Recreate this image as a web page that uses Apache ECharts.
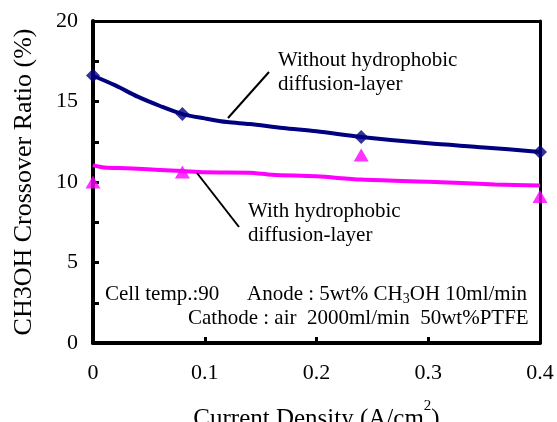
<!DOCTYPE html>
<html>
<head>
<meta charset="utf-8">
<script src="https://cdn.jsdelivr.net/npm/echarts@6/dist/echarts.min.js"></script>
<style>
html,body{margin:0;padding:0;background:#fff;}
#c{width:557px;height:422px;}
</style>
</head>
<body>
<div id="c"></div>
<script>
// Smooth curve (without hydrophobic diffusion-layer)
var curveWithoutX = [0, 0.02, 0.04, 0.06, 0.08, 0.10, 0.12, 0.14, 0.17, 0.20, 0.24, 0.30, 0.35, 0.40];
var curveWithoutY = [16.6, 16.0, 15.3, 14.72, 14.22, 13.95, 13.72, 13.6, 13.35, 13.15, 12.8, 12.4, 12.15, 11.86];
// Smooth curve (with hydrophobic diffusion-layer)
var curveWithX = [0, 0.01, 0.03, 0.06, 0.08, 0.10, 0.14, 0.16, 0.20, 0.24, 0.30, 0.36, 0.40];
var curveWithY = [11.05, 10.9, 10.85, 10.75, 10.68, 10.6, 10.58, 10.45, 10.35, 10.15, 10.02, 9.85, 9.78];
// Measured points
var pointsX = [0, 0.08, 0.24, 0.40];
var pointsWithoutY = [16.62, 14.22, 12.8, 11.86];
var pointsWithY = [10.0, 10.62, 11.68, 9.1];
// Axis ticks
var xTicks = [0, 0.1, 0.2, 0.3, 0.4];
var yTicks = [0, 5, 10, 15, 20];

function zip(xs, ys){ return xs.map(function(x,i){ return [x, ys[i]]; }); }

var FONT = 'Liberation Serif';
var chart = echarts.init(document.getElementById('c'), null, {renderer:'canvas'});
var frameAxisCommon = {
  type: 'value', axisLine: {show: true, onZero: false, lineStyle: {color: '#000', width: 3}},
  axisTick: {show: false}, axisLabel: {show: false}, splitLine: {show: false}
};
var option = {
  backgroundColor: '#fff',
  animation: false,
  grid: {left: 93, top: 21, width: 447, height: 322, outerBoundsMode: 'none', containLabel: false},
  xAxis: [{
    type: 'value', min: xTicks[0], max: xTicks[xTicks.length-1], interval: 0.1,
    axisLine: {onZero: false, lineStyle: {color: '#000', width: 4}},
    axisTick: {inside: true, length: 6, lineStyle: {color: '#000', width: 3}},
    axisLabel: {color: '#000', fontFamily: FONT, fontSize: 22, margin: 19},
    splitLine: {show: false},
    name: 'Current Density (A/cm{sup|2})',
    nameLocation: 'middle', nameGap: 56,
    nameTextStyle: {color: '#000', fontFamily: FONT, fontSize: 25, lineHeight: 40,
      rich: {sup: {fontFamily: FONT, fontSize: 15, lineHeight: 12, verticalAlign: 'top', color: '#000'}}}
  }, Object.assign({}, frameAxisCommon, {position: 'top', min: 0, max: 0.4})],
  yAxis: [{
    type: 'value', min: yTicks[0], max: yTicks[yTicks.length-1], interval: 5,
    axisLine: {onZero: false, lineStyle: {color: '#000', width: 4}},
    axisTick: {inside: true, length: 6, lineStyle: {color: '#000', width: 3}},
    minorTick: {show: true, splitNumber: 2, length: 6, lineStyle: {color: '#000', width: 3}},
    axisLabel: {color: '#000', fontFamily: FONT, fontSize: 22, margin: 15},
    splitLine: {show: false},
    name: 'CH3OH Crossover Ratio (%)',
    nameLocation: 'middle', nameGap: 56,
    nameTextStyle: {color: '#000', fontFamily: FONT, fontSize: 26, lineHeight: 26}
  }, Object.assign({}, frameAxisCommon, {position: 'right', min: 0, max: 20})],
  series: [
    {type: 'line', data: zip(curveWithoutX, curveWithoutY), smooth: 0.3, showSymbol: false,
     lineStyle: {color: '#000080', width: 4}, z: 2},
    {type: 'line', data: zip(curveWithX, curveWithY), smooth: 0.3, showSymbol: false,
     lineStyle: {color: '#FF00FF', width: 4}, z: 2},
    {type: 'scatter', data: zip(pointsX, pointsWithoutY), symbol: 'diamond', symbolSize: 14,
     itemStyle: {color: '#000080'}, clip: false, z: 5},
    {type: 'scatter', data: zip(pointsX, pointsWithY), symbol: 'triangle', symbolSize: [15, 13],
     itemStyle: {color: '#FF00FF'}, clip: false, z: 5}
  ],
  graphic: [
    {type: 'text', left: 278, top: 48, z: 10,
     style: {text: 'Without hydrophobic\ndiffusion-layer', font: '21px "Liberation Serif"', lineHeight: 24, fill: '#000'}},
    {type: 'line', z: 10, shape: {x1: 228, y1: 118, x2: 269, y2: 72}, style: {stroke: '#000', lineWidth: 2}},
    {type: 'text', left: 248, top: 199, z: 10,
     style: {text: 'With hydrophobic\ndiffusion-layer', font: '21px "Liberation Serif"', lineHeight: 24, fill: '#000'}},
    {type: 'line', z: 10, shape: {x1: 197, y1: 173, x2: 239, y2: 227}, style: {stroke: '#000', lineWidth: 2}},
    {type: 'text', left: 105, top: 282, z: 10,
     style: {text: 'Cell temp.:90', font: '21px "Liberation Serif"', lineHeight: 24, fill: '#000'}},
    {type: 'text', left: 247, top: 282, z: 10,
     style: {text: 'Anode : 5wt% CH{sub|3}OH 10ml/min', fontFamily: FONT, fontSize: 21, lineHeight: 24, fill: '#000',
       rich: {sub: {fontFamily: FONT, fontSize: 14, lineHeight: 14, verticalAlign: 'bottom', fill: '#000'}}}},
    {type: 'text', left: 188, top: 306, z: 10,
     style: {text: 'Cathode : air  2000ml/min  50wt%PTFE', font: '21px "Liberation Serif"', lineHeight: 24, fill: '#000'}}
  ]
};
chart.setOption(option);
</script>
</body>
</html>
